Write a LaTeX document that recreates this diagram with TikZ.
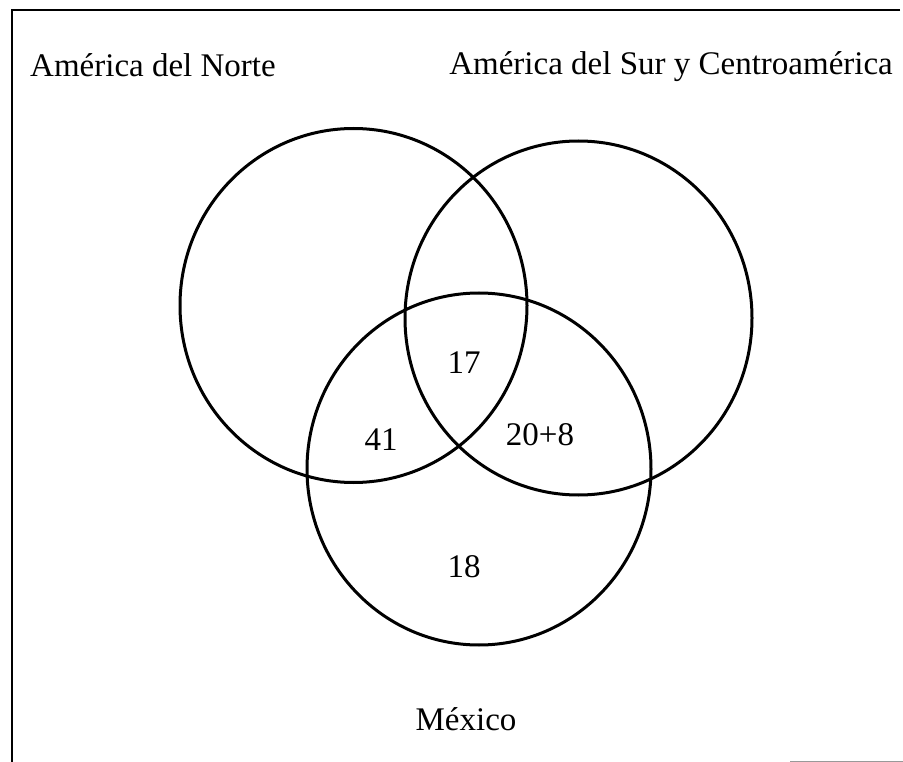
\documentclass[tikz,border=0pt]{standalone}
\usepackage{fontspec}
\setmainfont{Liberation Serif}
\usetikzlibrary{shapes.geometric}
\begin{document}
\begin{tikzpicture}[x=1pt,y=-1pt,
  setline/.style={line width=3pt,black},
  frameline/.style={line width=1.8pt,black},
  lbl/.style={inner sep=0pt,font=\fontsize{33}{38}\selectfont}]
\useasboundingbox (0,0) rectangle (903,762);
% frame
\coordinate (ftl) at (12,10);
\coordinate (ftr) at (900,10);
\coordinate (fbl) at (12,762);
\draw[frameline] (ftr) -- (ftl) -- (fbl);
\coordinate (gbl) at (790,761);
\coordinate (gbr) at (903,761);
\draw[line width=1pt,gray!80] (gbl) -- (gbr);
% circles
\node[setline,draw,ellipse,minimum width=347pt,minimum height=354pt,inner sep=0pt] (norte) at (353.5,305.5) {};
\node[setline,draw,ellipse,minimum width=347pt,minimum height=354pt,inner sep=0pt] (sur) at (578.5,318) {};
\node[setline,draw,ellipse,minimum width=344pt,minimum height=352pt,inner sep=0pt] (mex) at (479,469) {};
% labels
\node[lbl,anchor=base west] (tn) at (30,77) {América del Norte};
\node[lbl,anchor=base east] (ts) at (893,75) {América del Sur y Centroamérica};
\node[lbl,anchor=base] (tm) at (466,730) {México};
\node[lbl,anchor=base] (n17) at (464,373) {17};
\node[lbl,anchor=base] (n41) at (381,450) {41};
\node[lbl,anchor=base] (n28) at (540,445) {20+8};
\node[lbl,anchor=base] (n18) at (464,577) {18};
\end{tikzpicture}
\end{document}
